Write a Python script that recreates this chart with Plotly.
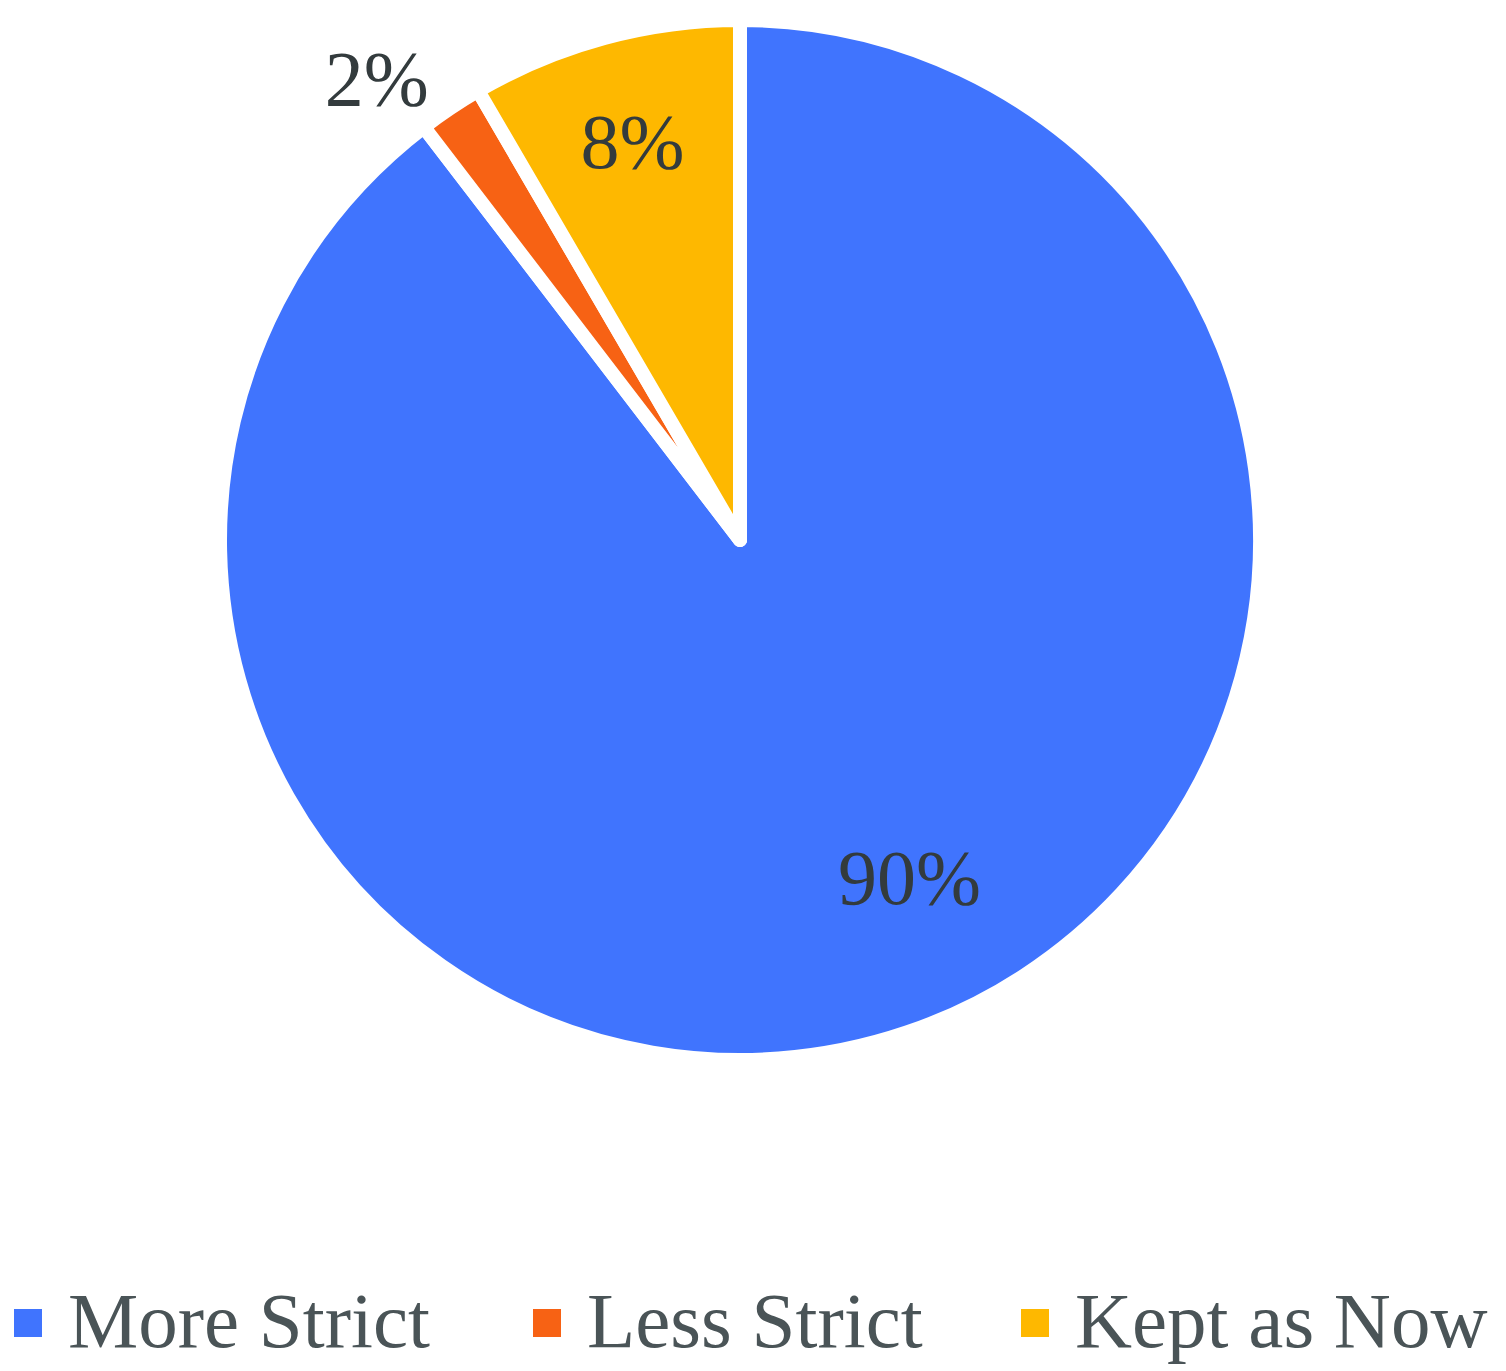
import plotly.graph_objects as go

labels = ["More Strict", "Less Strict", "Kept as Now"]
values = [89.6, 2.0, 8.4]
colors = ["#4074FE", "#F76214", "#FEB800"]
text_positions = ["none", "outside", "inside"]

# legend layout (pixel positions of the custom legend entries)
legend_x_px = [14, 533, 1021]
W, H = 1506, 1371

total = sum(values)

fig = go.Figure()
fig.add_trace(go.Pie(
    labels=labels,
    values=values,
    marker=dict(colors=colors, line=dict(color="white", width=14)),
    sort=False,
    direction="clockwise",
    rotation=0,
    texttemplate="%{percent:.0%}",
    textposition=text_positions,
    insidetextorientation="horizontal",
    textfont=dict(family="Liberation Serif", size=78, color="#333B3D"),
    showlegend=False,
    domain=dict(x=[(740 - 520) / W, (740 + 520) / W],
                y=[1 - (540 + 520) / H, 1 - (540 - 520) / H]),
    hoverinfo="label+percent",
))

shapes = []
annotations = []
for lab, col, xp in zip(labels, colors, legend_x_px):
    shapes.append(dict(type="rect", xref="paper", yref="paper",
                       x0=xp / W, x1=(xp + 28) / W,
                       y0=1 - 1337 / H, y1=1 - 1309 / H,
                       fillcolor=col, line=dict(width=0)))
    annotations.append(dict(text=lab, xref="paper", yref="paper",
                            x=(xp + 52) / W, y=1 - 1320 / H,
                            xanchor="left", yanchor="middle", showarrow=False,
                            font=dict(family="Liberation Serif", size=79, color="#4A5457")))

# label of the large slice, placed like the reference
annotations.append(dict(text=f"{round(values[0] / total * 100)}%", xref="paper", yref="paper",
                        x=909 / W, y=1 - 877 / H, xanchor="center", yanchor="middle",
                        showarrow=False,
                        font=dict(family="Liberation Serif", size=78, color="#333B3D")))

fig.update_layout(
    width=W, height=H,
    margin=dict(l=0, r=0, t=0, b=0),
    paper_bgcolor="white",
    plot_bgcolor="white",
    shapes=shapes,
    annotations=annotations,
)

fig.write_html("out.html")
